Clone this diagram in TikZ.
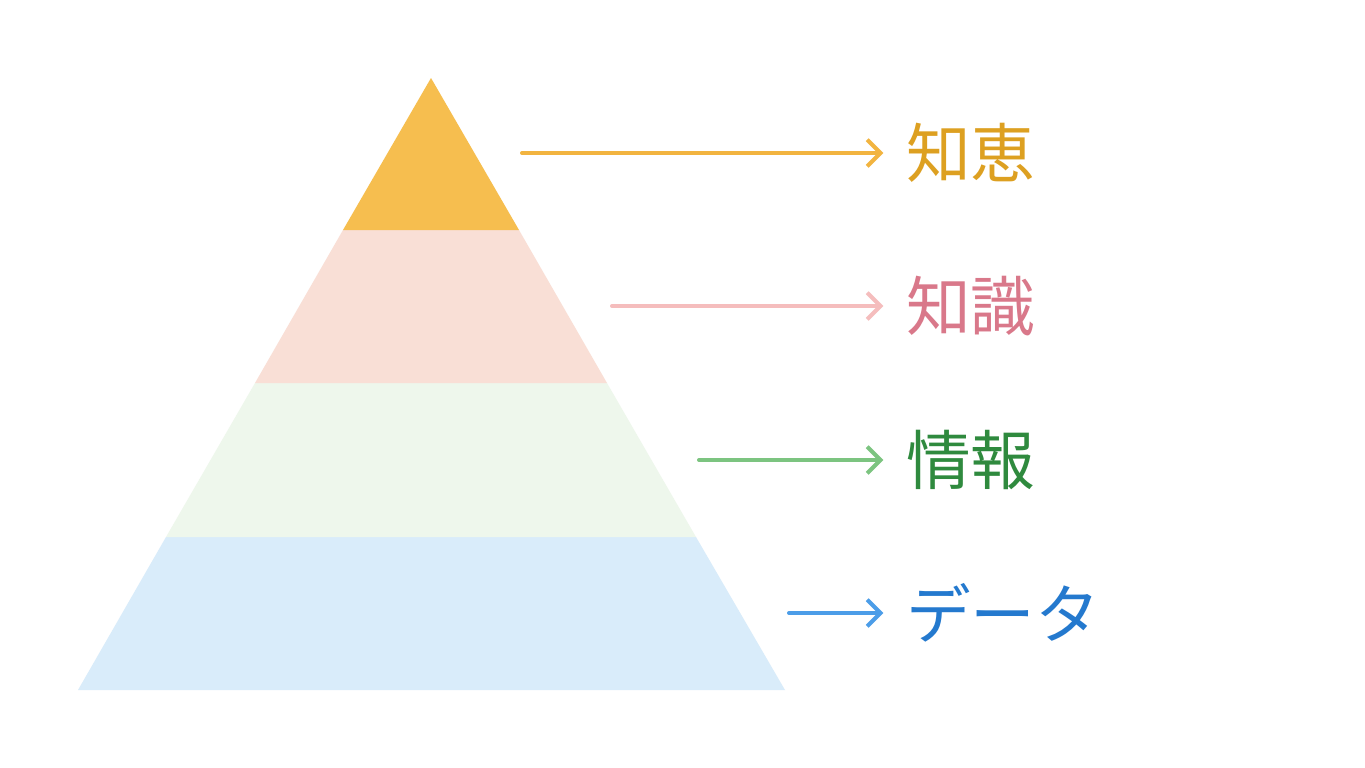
\documentclass[tikz,border=0pt]{standalone}
\usepackage{fontspec}
\newfontfamily\jpfont{Noto Sans CJK JP}
\usetikzlibrary{arrows.meta}
\definecolor{wisdomfill}{HTML}{F6BE4F}
\definecolor{wisdomline}{HTML}{F2B440}
\definecolor{wisdomtext}{HTML}{DDA021}
\definecolor{knowfill}{HTML}{F9DFD6}
\definecolor{knowline}{HTML}{F5BDBD}
\definecolor{knowtext}{HTML}{D9788A}
\definecolor{infofill}{HTML}{EEF7EC}
\definecolor{infoline}{HTML}{7CC480}
\definecolor{infotext}{HTML}{2F8A3E}
\definecolor{datafill}{HTML}{D9ECFA}
\definecolor{dataline}{HTML}{4C9DE8}
\definecolor{datatext}{HTML}{2479CE}
\tikzset{
  levelarrow/.style={line width=3pt, line cap=round, -{Straight Barb[length=10pt,width=20pt,line width=3pt]}, shorten >=17pt},
  levellabel/.style={anchor=west, inner sep=0pt, font=\jpfont\fontsize{48.5}{56}\selectfont}
}
\begin{document}
\begin{tikzpicture}[x=0.75pt,y=-0.75pt]
    \fill[white] (0,0) rectangle (1365,768);
    \useasboundingbox (0,0) rectangle (1365,768);
    %
    \fill[datafill] (78,690) -- (785,690) -- (696,537) -- (166,537) -- cycle;
    \fill[infofill] (166,537) -- (696,537) -- (607,383) -- (255,383) -- cycle;
    \fill[knowfill] (255,383) -- (607,383) -- (519,230) -- (343,230) -- cycle;
    \fill[wisdomfill] (343,230) -- (519,230) -- (431,78) -- cycle;
    %
    \node[levellabel, text=wisdomtext] (wisdom) at (906,153) {知恵};
    \node[levellabel, text=knowtext] (knowledge) at (906,306) {知識};
    \node[levellabel, text=infotext] (information) at (906,460) {情報};
    \node[levellabel, text=datatext] (data) at (906,613) {データ};
    %
    \coordinate (wisdomstart) at (522,153);
    \coordinate (knowstart) at (612,306);
    \coordinate (infostart) at (699,460);
    \coordinate (datastart) at (789,613);
    %
    \draw[levelarrow, wisdomline] (wisdomstart) -- (wisdom);
    \draw[levelarrow, knowline] (knowstart) -- (knowledge);
    \draw[levelarrow, infoline] (infostart) -- (information);
    \draw[levelarrow, dataline] (datastart) -- (data);
\end{tikzpicture}
\end{document}
